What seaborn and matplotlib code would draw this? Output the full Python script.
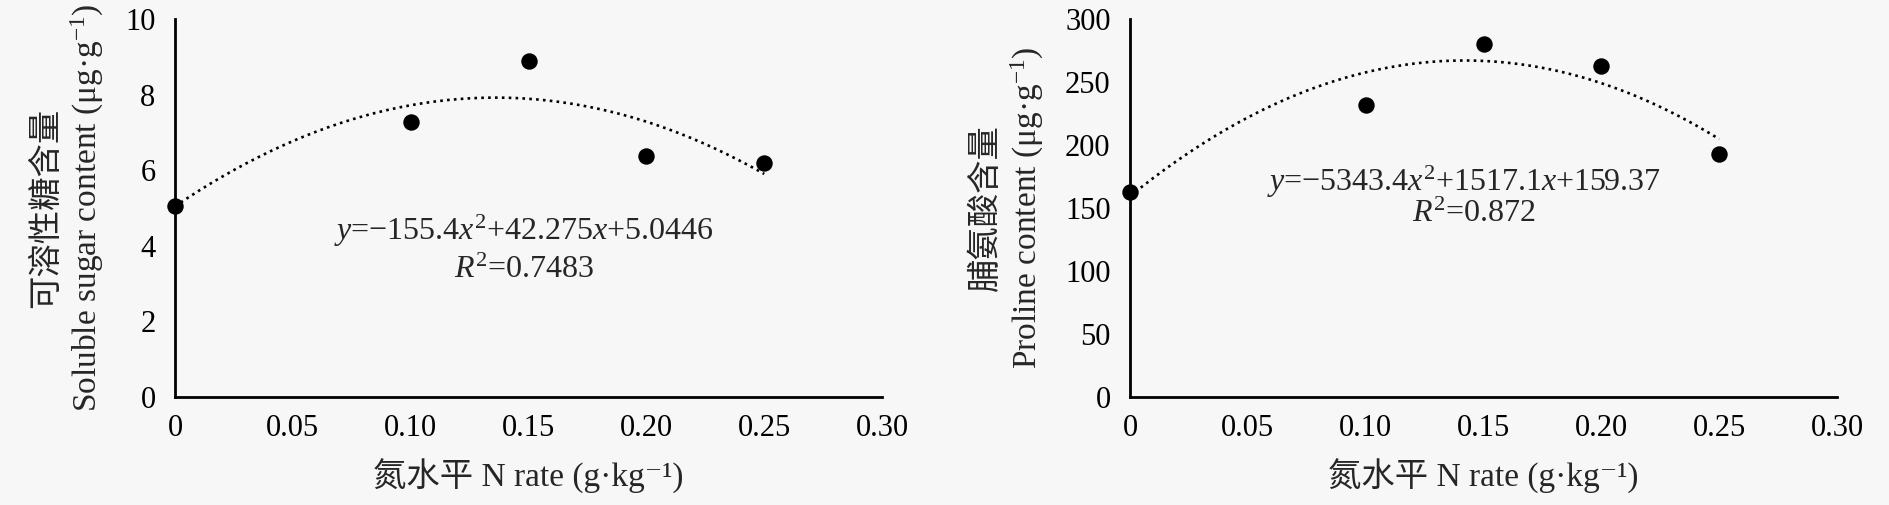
import numpy as np
import matplotlib
matplotlib.use("Agg")
import matplotlib.pyplot as plt
import seaborn as sns

# nitrogen rate levels (g/kg)
n_rate = [0, 0.10, 0.15, 0.20, 0.25]
sugar = [5.06, 7.28, 8.89, 6.38, 6.2]
proline = [163, 232, 280, 263, 193]

# quadratic fits as printed on the chart
sugar_coef = [-155.4, 42.275, 5.0446]
proline_coef = [-5343.4, 1517.1, 159.37]
sugar_eq = r"$y$=−155.4$x^2$+42.275$x$+5.0446"
sugar_r2 = r"$R^2$=0.7483"
proline_eq = r"$y$=−5343.4$x^2$+1517.1$x$+159.37"
proline_r2 = r"$R^2$=0.872"

xticks = [0, 0.05, 0.10, 0.15, 0.20, 0.25, 0.30]
xtick_labels = ["0", "0.05", "0.10", "0.15", "0.20", "0.25", "0.30"]
xlabel = "氮水平 N rate (g·kg⁻¹)"

bg = "#f7f7f7"
sns.set_style("white", {"axes.facecolor": bg, "figure.facecolor": bg})
plt.rcParams["font.family"] = ["Liberation Serif", "Noto Sans CJK SC", "DejaVu Serif"]
plt.rcParams["mathtext.fontset"] = "custom"
plt.rcParams["mathtext.rm"] = "Liberation Serif"
plt.rcParams["mathtext.it"] = "Liberation Serif:italic"

fig = plt.figure(figsize=(18.9, 5.05), dpi=100, facecolor=bg)
ax1 = fig.add_axes([0.0926, 0.2139, 0.3741, 0.7485])
ax2 = fig.add_axes([0.5979, 0.2139, 0.3741, 0.7485])

xs = np.linspace(0, 0.25, 200)
panels = [
    (ax1, sugar, sugar_coef, 10, [0, 2, 4, 6, 8, 10],
     "可溶性糖含量\nSoluble sugar content (μg·g$^{-1}$)",
     sugar_eq, sugar_r2, (0.148, 4.4), (0.148, 3.35)),
    (ax2, proline, proline_coef, 300, [0, 50, 100, 150, 200, 250, 300],
     "脯氨酸含量\nProline content (μg·g$^{-1}$)",
     proline_eq, proline_r2, (0.1415, 171), (0.146, 145)),
]

for ax, vals, coef, ymax, yticks, ylab, eq, r2, eq_pos, r2_pos in panels:
    ax.set_facecolor(bg)
    ax.plot(xs, np.polyval(coef, xs), color="black", linestyle=(0, (1, 1.6)),
            linewidth=1.9, dash_capstyle="butt")
    sns.scatterplot(x=n_rate, y=vals, ax=ax, color="black", s=140, linewidth=0,
                    zorder=3, clip_on=False)
    ax.set_xlim(0, 0.30)
    ax.set_ylim(0, ymax)
    ax.set_xticks(xticks)
    ax.set_xticklabels(xtick_labels)
    ax.set_yticks(yticks)
    ax.tick_params(direction="in", length=6, width=1.1, colors="black", labelsize=22)
    ax.tick_params(axis="x", pad=12)
    ax.tick_params(axis="y", pad=14)
    for side in ["top", "right"]:
        ax.spines[side].set_visible(False)
    for side in ["left", "bottom"]:
        ax.spines[side].set_color("black")
        ax.spines[side].set_linewidth(2)
    ax.set_xlabel(xlabel, fontsize=24, labelpad=12)
    ax.set_ylabel(ylab, fontsize=24, labelpad=14, linespacing=1.25)
    ax.text(eq_pos[0], eq_pos[1], eq, ha="center", va="center", fontsize=23)
    ax.text(r2_pos[0], r2_pos[1], r2, ha="center", va="center", fontsize=23)

fig.savefig("out.png", dpi=100, facecolor=bg)
